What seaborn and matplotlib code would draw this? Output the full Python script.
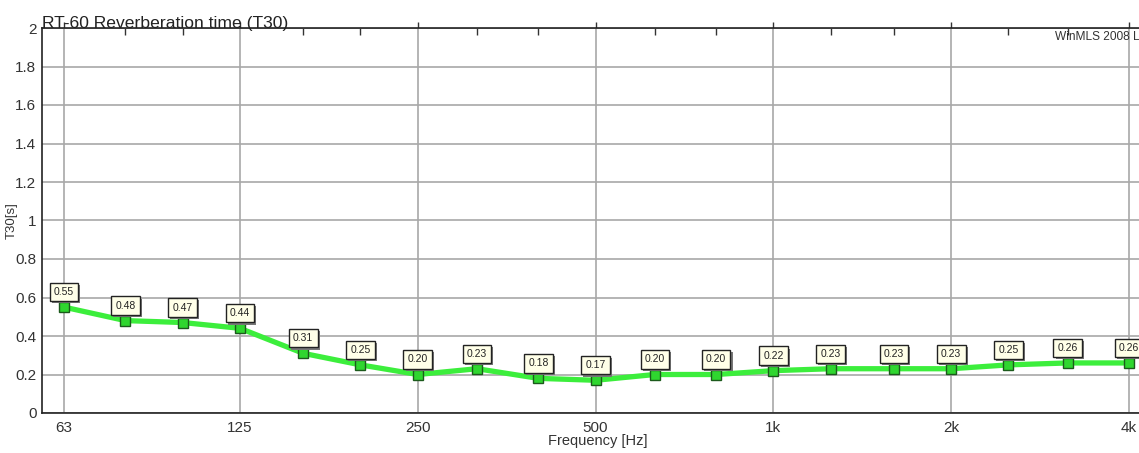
import pandas as pd
import seaborn as sns
import matplotlib.pyplot as plt
import matplotlib.ticker as mticker
import matplotlib.patheffects as pe

# third-octave band centres [Hz] and measured T30 [s]
bands = [63, 80, 100, 125, 160, 200, 250, 315, 400, 500, 630, 800,
         1000, 1250, 1600, 2000, 2500, 3150, 4000]
t30 = [0.55, 0.48, 0.47, 0.44, 0.31, 0.25, 0.20, 0.23, 0.18, 0.17, 0.20, 0.20,
       0.22, 0.23, 0.23, 0.23, 0.25, 0.26, 0.26]
major_ticks = [63, 125, 250, 500, 1000, 2000, 4000]
major_labels = ["63", "125", "250", "500", "1k", "2k", "4k"]

df = pd.DataFrame({"freq": bands, "t30": t30})

sns.set_style("white")
plt.rcParams['font.family'] = ['Liberation Sans', 'DejaVu Sans']

fig = plt.figure(figsize=(11.39, 4.53), dpi=100)
ax = fig.add_axes([42 / 1139, 1 - 413 / 453, (1154 - 42) / 1139, (413 - 28) / 453])

sns.lineplot(data=df, x="freq", y="t30", ax=ax, color="#3cee3c", linewidth=3.8,
             marker="s", markersize=7, markerfacecolor="#2fd62f",
             markeredgecolor="#1c5a1c", markeredgewidth=1.0, zorder=3)

ax.set_xscale("log")
ax.set_xlim(57.8, 4408)
ax.set_ylim(0, 2)

ax.xaxis.set_major_locator(mticker.FixedLocator(major_ticks))
ax.xaxis.set_major_formatter(mticker.FixedFormatter(major_labels))
ax.xaxis.set_minor_locator(mticker.FixedLocator([b for b in bands if b not in major_ticks]))
ax.xaxis.set_minor_formatter(mticker.NullFormatter())
ax.yaxis.set_major_locator(mticker.MultipleLocator(0.2))
ax.yaxis.set_major_formatter(mticker.FuncFormatter(lambda v, p: f"{v:g}"))

ax.tick_params(axis="x", which="major", direction="out", length=4, width=1,
               labelsize=11, colors="#333333", pad=2, top=True)
ax.tick_params(axis="x", which="minor", direction="in", length=5, width=1,
               top=True, color="#333333")
ax.tick_params(axis="y", which="major", direction="out", length=4, width=1,
               labelsize=11, colors="#333333", pad=0)

ax.grid(True, which="major", color="#a8a8a8", linewidth=1.2)
for s in ["left", "bottom", "top", "right"]:
    ax.spines[s].set_color("#222222")
    ax.spines[s].set_linewidth(1.2)

ax.set_xlabel("Frequency [Hz]", fontsize=10.5, color="#333333", labelpad=-1)
ax.set_ylabel("T30[s]", fontsize=9.5, color="#333333")
ax.yaxis.set_label_coords(-24 / 1112, 0.5)

ax.text(0.0, 1.0, "RT-60 Reverberation time (T30)", transform=ax.transAxes,
        ha="left", va="baseline", fontsize=12.6, color="#222222")
ax.text(1055 / 1139, 1 - 37 / 453, "WinMLS 2008 L", transform=fig.transFigure,
        ha="left", va="center", fontsize=8.6, color="#333333")

for f, v in zip(bands, t30):
    t = ax.annotate(f"{v:.2f}", (f, v), xytext=(0, 15), textcoords="offset pixels",
                    ha="center", va="center", fontsize=7.5, color="#222222", zorder=5,
                    bbox=dict(boxstyle="square,pad=0.4", fc="#ffffe8", ec="#222222", lw=1))
    t.get_bbox_patch().set_path_effects(
        [pe.withSimplePatchShadow(offset=(1.5, -1.5), shadow_rgbFace="#777777", alpha=1)])

fig.savefig("out.png", dpi=100)
